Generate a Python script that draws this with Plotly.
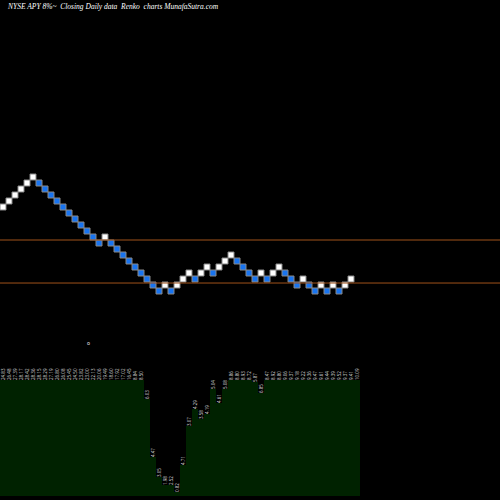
import plotly.graph_objects as go

# Renko brick levels (price units) and direction (1 = up/white, 0 = down/blue)
levels = [14,15,16,17,18,19,18,17,16,15,14,13,12,11,10,9,8,9,8,7,6,5,4,3,2,1,0,1,0,1,2,3,2,3,4,3,4,5,6,5,4,3,2,3,2,3,4,3,2,1,2,1,0,1,0,1,0,1,2]
ups =    [1,1,1,1,1,1,0,0,0,0,0,0,0,0,0,0,0,1,0,0,0,0,0,0,0,0,0,1,0,1,1,1,0,1,1,0,1,1,1,0,0,0,0,1,0,1,1,0,0,0,1,0,0,1,0,1,0,1,1]
lines = [8.5, 1.33]

heights = [116]*24 + [97,39,19,11,11,4,31,70,87,77,82,107,93,107,116,116,116,116,114,103] + [116]*16
labels = ["24.83","26.48","27.39","28.17","28.42","28.36","28.15","28.29","27.19","26.80","26.08","25.45",
          "24.50","23.82","23.00","22.13","20.06","19.49","18.60","17.92","17.02","16.45","8.84","8.50",
          "6.03","4.47","3.05","1.98","2.52","0.82","4.71","3.07","4.29","3.58","4.19","5.04","4.61","5.08",
          "8.86","8.80","8.93","8.72","5.87","6.85","8.47","8.92","8.80","9.06","9.37","9.18","9.22","9.36",
          "9.47","9.61","9.44","9.39","9.52","9.37","9.41","10.09"]

xs = list(range(len(levels)))
fig = go.Figure()
fig.add_trace(go.Bar(x=list(range(len(heights))), y=heights, width=1, marker=dict(color="#002200", line_width=0),
                     text=labels, textposition="outside", textangle=-90, cliponaxis=False,
                     constraintext="none",
                     textfont=dict(size=4.5, color="#dddddd"), yaxis="y2"))
fig.add_trace(go.Scatter(x=xs, y=levels, mode="markers",
                         marker=dict(symbol="square", size=6,
                                     color=["white" if u else "#1874f0" for u in ups],
                                     line=dict(color="#888888", width=1))))
for l in lines:
    fig.add_shape(type="line", xref="paper", x0=0, x1=1, y0=l, y1=l, yref="y",
                  line=dict(color="#a0521a", width=1))
fig.add_annotation(x=14.3, y=-8.6, text="o", showarrow=False, font=dict(size=5, color="white"))
fig.add_annotation(xref="paper", yref="paper", x=0.01, y=0.988, xanchor="left", yanchor="middle",
                   text="NYSE APY 8%~  Closing Daily data  Renko  charts MunafaSutra.com", showarrow=False,
                   font=dict(family="Liberation Serif", size=7.5, color="white", style="italic"))
fig.update_layout(width=500, height=500, margin=dict(l=0, r=0, t=0, b=0),
                  paper_bgcolor="black", plot_bgcolor="black", showlegend=False, bargap=0,
                  xaxis=dict(range=[-0.5, 500/6-0.5], visible=False),
                  yaxis=dict(range=[-209/6, 291/6], visible=False),
                  yaxis2=dict(range=[-4, 496], overlaying="y", visible=False))
fig.write_html("out.html", config={"displayModeBar": False},
               post_script="document.body.style.margin='0';document.body.style.background='black';")
